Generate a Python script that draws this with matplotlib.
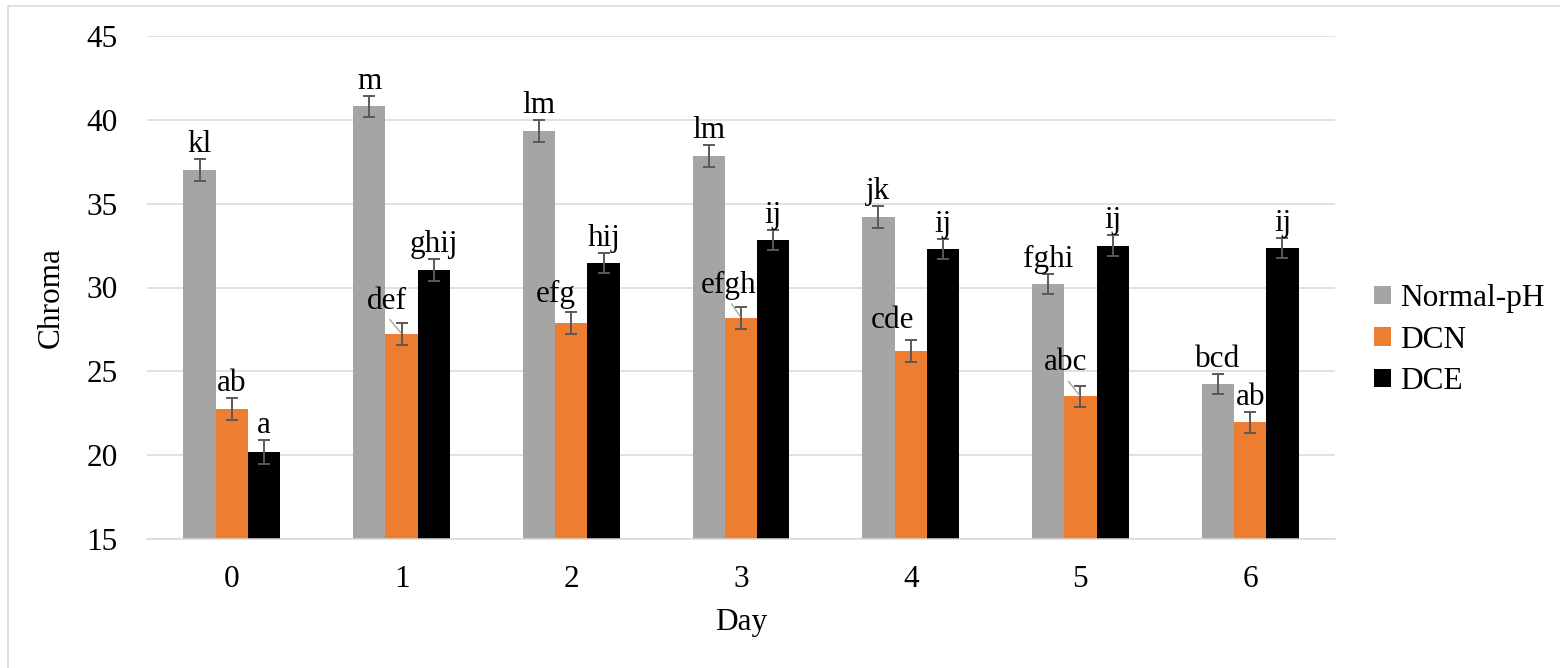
import matplotlib
matplotlib.use('Agg')
import matplotlib.pyplot as plt
from matplotlib.transforms import offset_copy
from matplotlib.patches import Rectangle
import numpy as np

plt.rcParams['font.family'] = ['Liberation Serif', 'DejaVu Serif']

# data
days = ['0', '1', '2', '3', '4', '5', '6']
series = ['Normal-pH', 'DCN', 'DCE']
normal_ph = [37.0, 40.8, 39.35, 37.85, 34.2, 30.2, 24.25]
dcn = [22.75, 27.25, 27.9, 28.2, 26.2, 23.5, 21.95]
dce = [20.2, 31.05, 31.45, 32.85, 32.3, 32.5, 32.35]
normal_ph_err = [0.65, 0.65, 0.65, 0.65, 0.65, 0.6, 0.6]
dcn_err = [0.65, 0.65, 0.65, 0.65, 0.65, 0.6, 0.6]
dce_err = [0.7, 0.65, 0.6, 0.6, 0.6, 0.65, 0.6]
normal_ph_letters = ['kl', 'm', 'lm', 'lm', 'jk', 'fghi', 'bcd']
dcn_letters = ['ab', 'def', 'efg', 'efgh', 'cde', 'abc', 'ab']
dce_letters = ['a', 'ghij', 'hij', 'ij', 'ij', 'ij', 'ij']

colors = ['#A5A5A5', '#ED7D31', '#000000']
fs = 22.5

# labels that were dragged away from their bar in the original (px offsets)
moved = {
    (1, 1): (-15, 14, True),
    (1, 2): (-16, 10, False),
    (1, 3): (-12, 14, True),
    (1, 4): (-18, 12, False),
    (1, 5): (-15, 16, True),
}

fig = plt.figure(figsize=(15.6, 6.68), dpi=100)
ax = fig.add_axes([147 / 1560, 1 - 539 / 668, (1335 - 147) / 1560, (539 - 36) / 668])

x = np.arange(len(days))
w = 0.19
values = [normal_ph, dcn, dce]
errs = [normal_ph_err, dcn_err, dce_err]
letters = [normal_ph_letters, dcn_letters, dce_letters]

px = 72 / fig.dpi
for s, name in enumerate(series):
    xs = x + (s - 1) * w
    ax.bar(xs, values[s], w, bottom=0, color=colors[s], label=name, zorder=2)
    ax.errorbar(xs, values[s], yerr=errs[s], fmt='none', ecolor='#595959',
                elinewidth=1.4, capsize=4.5, capthick=1.4, zorder=3)
    for i in range(len(days)):
        top = values[s][i] + errs[s][i]
        dx, gap, leader = moved.get((s, i), (0, 7, False))
        tr = offset_copy(ax.transData, fig=fig, x=dx * px, y=gap * px, units='points')
        if leader:
            ax.annotate(letters[s][i], xy=(xs[i], values[s][i]), xytext=(xs[i], top),
                        textcoords=tr, ha='center', va='baseline', fontsize=fs,
                        arrowprops=dict(arrowstyle='-', color='#A6A6A6', lw=1.0,
                                        relpos=(0.5, 0), shrinkA=1, shrinkB=1),
                        zorder=4)
        else:
            ax.text(xs[i], top, letters[s][i], transform=tr, ha='center',
                    va='baseline', fontsize=fs, zorder=4)

ax.set_xlim(-0.5, 6.5)
ax.set_ylim(15, 45)
ax.set_yticks(range(15, 46, 5))
ax.set_xticks(x)
ax.set_xticklabels(days)
ax.tick_params(axis='both', length=0, labelsize=fs)
ax.tick_params(axis='y', pad=21)
ax.tick_params(axis='x', pad=19)
ax.grid(axis='y', color='#D9D9D9', lw=1.1, zorder=0)
for side in ['left', 'right', 'top']:
    ax.spines[side].set_visible(False)
ax.spines['bottom'].set_color('#D9D9D9')
ax.spines['bottom'].set_linewidth(1.1)

ax.set_xlabel('Day', fontsize=fs)
ax.xaxis.set_label_coords(0.5, -0.138)
ax.set_ylabel('Chroma', fontsize=fs)
ax.yaxis.set_label_coords(-0.068, 0.48)

ax.legend(loc='center left', bbox_to_anchor=(1374 / 1560, 1 - 340 / 668),
          bbox_transform=fig.transFigure, frameon=False, fontsize=fs,
          handlelength=0.55, handleheight=0.55, handletextpad=0.3,
          labelspacing=0.4, borderpad=0, borderaxespad=0)

# light frame around the chart area
fig.patches.append(Rectangle((8 / 1560, -0.1), 1.2, 1 - 6 / 668 + 0.1,
                             transform=fig.transFigure, fill=False,
                             edgecolor='#D9D9D9', lw=1.2))

fig.savefig('out.png', dpi=100)
